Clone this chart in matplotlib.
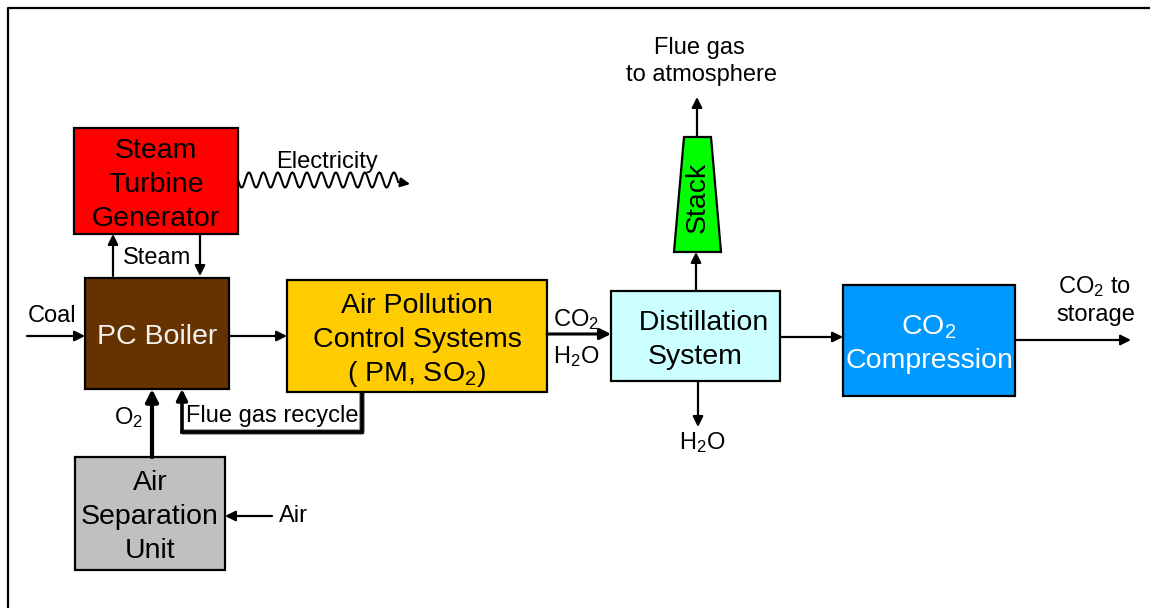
import numpy as np
import matplotlib.pyplot as plt
from matplotlib.patches import Rectangle, Polygon

plt.rcParams['font.family'] = ['Liberation Sans', 'DejaVu Sans']
plt.rcParams['mathtext.default'] = 'regular'

# process blocks: name -> (x0, y0, x1, y1) in pixel units (y grows downward)
box_names = ['stg', 'boiler', 'asu', 'apc', 'dist', 'comp']
box_extents = [(74, 128, 238, 234), (85, 278, 229, 389), (75, 457, 225, 570),
               (287, 280, 547, 392), (611, 291, 780, 381), (843, 285, 1015, 396)]
box_colors = ['#FF0000', '#663300', '#C0C0C0', '#FFCC00', '#CCFFFF', '#0099FF']
box_text_colors = ['black', '#F2F2F2', 'black', 'black', 'black', 'white']
box_lines = [['Steam', 'Turbine', 'Generator'],
             ['PC Boiler'],
             ['Air', 'Separation', 'Unit'],
             ['Air Pollution', 'Control Systems', '( PM, SO$_2$)'],
             ['  Distillation', 'System'],
             ['CO$_2$', 'Compression']]

stack_outline = [(674, 252), (684, 137), (711, 137), (721, 252)]

# stream arrows: (start, end, linewidth)
streams = [((27, 336), (85, 336), 1.6),      # coal
           ((229, 336), (287, 336), 1.6),    # boiler -> APC
           ((547, 334), (611, 334), 2.2),    # APC -> distillation
           ((780, 337), (843, 337), 1.6),    # distillation -> compression
           ((1015, 340), (1131, 340), 1.6),  # CO2 to storage
           ((696, 291), (696, 252), 1.6),    # distillation -> stack
           ((697, 137), (697, 97), 1.6),     # stack -> atmosphere
           ((698, 381), (698, 427), 1.6),    # H2O out
           ((113, 276), (113, 234), 1.6),    # steam up
           ((200, 234), (200, 276), 1.6),    # condensate down
           ((152, 457), (152, 389), 3.0),    # O2
           ((272, 516), (225, 516), 1.6)]    # air in

recycle_path = [(362, 392), (362, 432), (182, 432), (182, 389)]

# labels: (text, x, y, ha)
labels = [('Coal', 52, 316, 'center'),
          ('Steam', 157, 258, 'center'),
          ('Electricity', 327, 162, 'center'),
          ('O$_2$', 128, 418, 'center'),
          ('Flue gas recycle', 186, 416, 'left'),
          ('Air', 279, 516, 'left'),
          ('CO$_2$', 576, 320, 'center'),
          ('H$_2$O', 576, 357, 'center'),
          ('Flue gas', 699, 48, 'center'),
          ('to atmosphere', 702, 75, 'center'),
          ('H$_2$O', 702, 443, 'center'),
          ('CO$_2$ to', 1094, 287, 'center'),
          ('storage', 1096, 315, 'center')]

fig = plt.figure(figsize=(11.5, 6.08), dpi=100)
ax = fig.add_axes([0, 0, 1, 1])
ax.set_xlim(0, 1150)
ax.set_ylim(608, 0)
ax.axis('off')

# outer frame (only top and left edges are visible)
ax.plot([8, 8, 1150], [608, 8, 8], color='black', lw=1.6)

line_gap = 34
for (x0, y0, x1, y1), fc, tc, lines in zip(box_extents, box_colors, box_text_colors, box_lines):
    ax.add_patch(Rectangle((x0, y0), x1 - x0, y1 - y0, facecolor=fc,
                           edgecolor='black', lw=1.6, zorder=2))
    cx = (x0 + x1) / 2
    cy = (y0 + y1) / 2 + 4
    n = len(lines)
    for i, txt in enumerate(lines):
        ty = cy + (i - (n - 1) / 2) * line_gap
        ax.text(cx, ty, txt, ha='center', va='center', fontsize=20.5, color=tc, zorder=3)

ax.add_patch(Polygon(stack_outline, closed=True, facecolor='#00FF00',
                     edgecolor='black', lw=1.6, zorder=2))
ax.text(698, 197, 'Stack', rotation=90, ha='center', va='center', fontsize=20.5, zorder=3)

for start, end, lw in streams:
    ax.annotate('', xy=end, xytext=start,
                arrowprops=dict(arrowstyle='-|>', lw=lw, color='black',
                                mutation_scale=12 + 2 * lw, shrinkA=0, shrinkB=0))

rx = [p[0] for p in recycle_path]
ry = [p[1] for p in recycle_path]
ax.plot(rx[:-1], ry[:-1], color='#808080', lw=4.0, solid_capstyle='butt', zorder=1)
ax.plot(rx[:-1], ry[:-1], color='black', lw=2.6, solid_joinstyle='miter', zorder=1)
ax.annotate('', xy=recycle_path[-1], xytext=recycle_path[-2],
            arrowprops=dict(arrowstyle='-|>', lw=2.6, color='black',
                            mutation_scale=16, shrinkA=0, shrinkB=0))

# electricity: wavy line
wx = np.linspace(238, 398, 600)
wy = 180 + 7.5 * np.sin((wx - 238) / 14.5 * 2 * np.pi)
ax.plot(wx, wy, color='black', lw=1.5)
ax.annotate('', xy=(410, 184), xytext=(398, 182),
            arrowprops=dict(arrowstyle='-|>', lw=1.5, color='black',
                            mutation_scale=14, shrinkA=0, shrinkB=0))

for txt, x, y, ha in labels:
    ax.text(x, y, txt, ha=ha, va='center', fontsize=17)

fig.savefig('out.png', dpi=100)
